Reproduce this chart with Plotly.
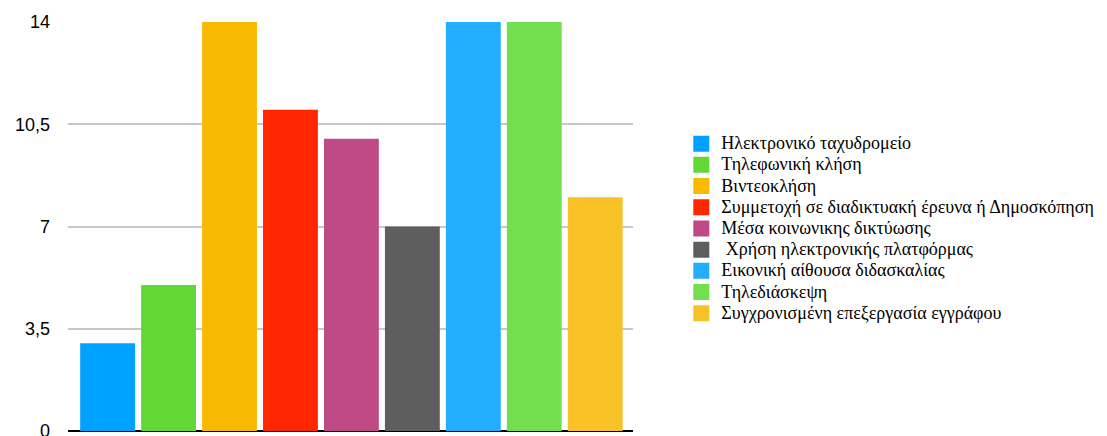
import plotly.graph_objects as go

categories = [
    "Ηλεκτρονικό ταχυδρομείο",
    "Τηλεφωνική κλήση",
    "Βιντεοκλήση",
    "Συμμετοχή σε διαδικτυακή έρευνα ή Δημοσκόπηση",
    "Μέσα κοινωνικης δικτύωσης",
    " Χρήση ηλεκτρονικής πλατφόρμας",
    "Εικονική αίθουσα διδασκαλίας",
    "Τηλεδιάσκεψη",
    "Συγχρονισμένη επεξεργασία εγγράφου",
]
values = [3, 5, 14, 11, 10, 7, 14, 14, 8]
colors = ["#00A2FF", "#61D836", "#F8BA00", "#FF2600", "#BF4B86",
          "#5E5E5E", "#22ADFF", "#71DF4F", "#F8C226"]
tick_vals = [0, 3.5, 7, 10.5, 14]
tick_text = ["0", "3,5", "7", "10,5", "14"]

SERIF = "Liberation Serif, Times New Roman, serif"

fig = go.Figure()
for i, (name, v, c) in enumerate(zip(categories, values, colors)):
    fig.add_trace(go.Bar(
        x=[i], y=[v], name=name, width=0.9, legendgroup=name, showlegend=False,
        marker=dict(color=c, line=dict(width=0)),
        hoverinfo="y+name",
    ))
    # legend entry with a larger square swatch
    fig.add_trace(go.Scatter(
        x=[None], y=[None], mode="markers", legendgroup=name,
        name='<span style="font-size:18px">' + name + "</span>",
        marker=dict(symbol="square", size=16, color=c, line=dict(width=0)),
        hoverinfo="skip",
    ))

fig.update_layout(
    width=1107, height=436,
    margin=dict(l=68, r=474, t=22, b=5),
    paper_bgcolor="white", plot_bgcolor="white",
    barmode="overlay",
    showlegend=True,
    legend=dict(
        x=1.0855, xanchor="left", y=0.495, yanchor="middle",
        font=dict(family=SERIF, size=14, color="#000"),
        bgcolor="rgba(0,0,0,0)", tracegroupgap=0,
    ),
    xaxis=dict(
        range=[-0.65, 8.62], showticklabels=False, showgrid=False,
        zeroline=False, ticks="", fixedrange=True,
    ),
    yaxis=dict(
        range=[0, 14], tickvals=tick_vals, ticktext=tick_text,
        showgrid=True, gridcolor="#C8C8C8", gridwidth=2,
        zeroline=True, zerolinecolor="#000", zerolinewidth=2,
        ticks="", ticklabelstandoff=17, ticklabeloverflow="allow",
        automargin=False,
        tickfont=dict(family="Liberation Sans, Arial, sans-serif", size=18, color="#000"),
    ),
)

fig.write_html("out.html")
